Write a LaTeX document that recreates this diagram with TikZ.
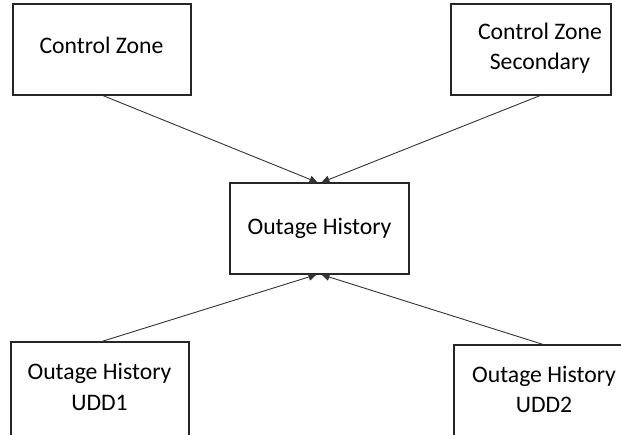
\documentclass[tikz,border=0pt]{standalone}
\usepackage{fontspec}
\setmainfont{Carlito}
\usetikzlibrary{arrows.meta,calc}
\begin{document}
\begin{tikzpicture}[x=1pt,y=-1pt,
  box/.style={draw=black!85, line width=1.2pt, inner sep=0pt},
  txt/.style={anchor=base, inner sep=0pt, font=\fontsize{23.7}{29}\selectfont, text=black},
  arr/.style={draw=black!80, line width=0.9pt, -{Triangle[length=8pt,width=7.5pt]}}]
\useasboundingbox (0,0) rectangle (621,434);
\node[box, minimum width=178pt, minimum height=91pt] (cz) at (102,49.5) {};
\node[box, minimum width=160pt, minimum height=91pt] (czs) at (531,49.5) {};
\node[box, minimum width=179pt, minimum height=91pt] (oh) at (319.5,228.5) {};
\node[box, minimum width=178pt, minimum height=94pt] (u1) at (100,389) {};
\node[box, minimum width=178pt, minimum height=92pt] (u2) at (543,391) {};
\node[txt] (t1) at (101.5,53) {Control Zone};
\node[txt] (t2a) at (540,39.5) {Control Zone};
\node[txt] (t2b) at (540,69.5) {Secondary};
\node[txt] (t3) at (319.5,234) {Outage History};
\node[txt] (t4a) at (99.5,379.5) {Outage History};
\node[txt] (t4b) at (99.5,410.5) {UDD1};
\node[txt] (t5a) at (544,382) {Outage History};
\node[txt] (t5b) at (544,412) {UDD2};
\draw[arr] ($(cz.south)+(1,0)$) -- ($(oh.north)+(-2,0)$);
\draw[arr] ($(czs.south)+(9,0)$) -- ($(oh.north)+(2,0)$);
\draw[arr] ($(u1.north)+(2,0)$) -- ($(oh.south)+(-3,0)$);
\draw[arr] (u2.north) -- ($(oh.south)+(2,0)$);
\end{tikzpicture}
\end{document}
